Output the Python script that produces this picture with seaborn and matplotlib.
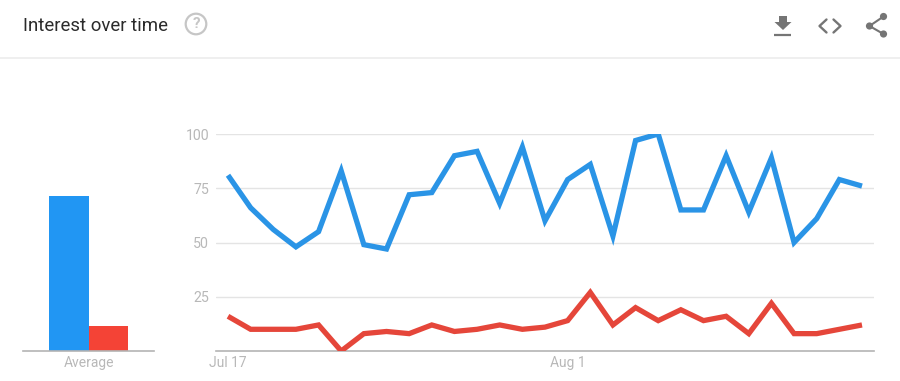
# -*- coding: utf-8 -*-
import numpy as np
import pandas as pd
import seaborn as sns
import matplotlib
matplotlib.use('Agg')
import matplotlib.pyplot as plt
from matplotlib.patches import Circle, Polygon

# values
days = list(range(29))
blue_values = [81, 66, 56, 48, 55, 83, 49, 47, 72, 73, 90, 92, 68, 94, 60,
               79, 86, 53, 97, 100, 65, 65, 90, 64, 89, 50, 61, 79, 76]
red_values = [16, 10, 10, 10, 12, 0, 8, 9, 8, 12, 9, 10, 12, 10, 11,
              14, 27, 12, 20, 14, 19, 14, 16, 8, 22, 8, 8, 10, 12]
series_names = ['Term 1', 'Term 2']
average_values = [71.5, 11.5]
x_tick_pos = [0, 15]
x_tick_labels = ['Jul 17', 'Aug 1']
y_ticks = [25, 50, 75, 100]

BLUE_LINE = '#2a94e6'
RED_LINE = '#e5463a'
BLUE_BAR = '#2196f3'
RED_BAR = '#f44336'
TICK_COLOR = '#b8b8b8'
GRID_COLOR = '#e4e4e4'
AXIS_COLOR = '#b4b4b4'
ICON_COLOR = '#757575'

W, H = 900, 381

sns.set_theme(style='white')
plt.rcParams['font.family'] = ['Roboto', 'DejaVu Sans']

df_lines = pd.DataFrame({'day': days, series_names[0]: blue_values,
                         series_names[1]: red_values})
dfm = df_lines.melt('day', var_name='term', value_name='interest')
df_avg = pd.DataFrame({'label': ['Average', 'Average'], 'term': series_names,
                       'value': average_values})

fig = plt.figure(figsize=(W / 100, H / 100), dpi=100, facecolor='white')

# left bars
ax_bar = fig.add_axes([23 / W, (H - 351) / H, 131 / W, 217 / H])
sns.barplot(data=df_avg, x='label', y='value', hue='term', ax=ax_bar,
            palette=[BLUE_BAR, RED_BAR], width=0.61, gap=0, saturation=1,
            linewidth=0, legend=False)
ax_bar.set_xlim(-0.5, 0.5)
ax_bar.set_ylim(0, 100)
ax_bar.set(xlabel='', ylabel='', yticks=[])
ax_bar.tick_params(axis='x', length=0, pad=3.5, labelsize=10, labelcolor=TICK_COLOR)

# main lines
ax = fig.add_axes([216 / W, (H - 351) / H, 658 / W, 217 / H])
sns.lineplot(data=dfm, x='day', y='interest', hue='term', ax=ax,
             palette=[BLUE_LINE, RED_LINE], linewidth=3.8, legend=False,
             zorder=3)
for line in ax.get_lines():
    line.set_solid_joinstyle('miter')
    line.set_solid_capstyle('butt')
ax.set_xlim(-0.53, 28.53)
ax.set_ylim(0, 100)
ax.set(xlabel='', ylabel='')
ax.set_xticks(x_tick_pos, x_tick_labels)
ax.set_yticks(y_ticks)
ax.grid(axis='y', color=GRID_COLOR, linewidth=1)
ax.set_axisbelow(True)
ax.tick_params(axis='x', length=0, pad=3.5, labelsize=10, labelcolor=TICK_COLOR)
ax.tick_params(axis='y', length=0, pad=5, labelsize=10.2, labelcolor=TICK_COLOR)

for a in (ax, ax_bar):
    sns.despine(ax=a, left=True)
    a.spines['bottom'].set_color(AXIS_COLOR)
    a.spines['bottom'].set_linewidth(1.2)
    a.patch.set_alpha(0)

# header, drawn in pixel coordinates
top = fig.add_axes([0, 0, 1, 1], zorder=9)
top.set_xlim(0, W)
top.set_ylim(H, 0)
top.axis('off')
top.patch.set_alpha(0)

top.text(23, 26, 'Interest over time', fontsize=13.4, color='#2b2b2b',
         va='center', ha='left')
top.plot([0, W], [57.5, 57.5], color='#ececec', lw=1.2)

# help icon
top.add_patch(Circle((196, 24), 10.3, fill=False, ec='#c6c6c6', lw=1.6))
top.text(196, 24, '?', fontsize=11, color='#c6c6c6', ha='center', va='center',
         fontweight='bold')

# download icon
top.add_patch(Polygon([(779, 16), (787, 16), (787, 22), (791.5, 22),
                       (783, 30), (774.5, 22), (779, 22)],
                      closed=True, fc=ICON_COLOR, ec='none'))
top.plot([774, 791], [35, 35], color=ICON_COLOR, lw=1.6, solid_capstyle='butt')

# embed icon
top.plot([826.5, 819.5, 826.5], [19.5, 26, 32.5], color=ICON_COLOR, lw=1.7)
top.plot([833.5, 840.5, 833.5], [19.5, 26, 32.5], color=ICON_COLOR, lw=1.7)

# share icon
top.plot([883.5, 869.5, 883.5], [16.5, 26, 34], color=ICON_COLOR, lw=1.5)
for cx, cy in [(883.5, 16.5), (869.5, 26), (883.5, 34)]:
    top.add_patch(Circle((cx, cy), 3.6, fc=ICON_COLOR, ec='none'))

fig.savefig('out.png', dpi=100, facecolor='white')
plt.close(fig)
